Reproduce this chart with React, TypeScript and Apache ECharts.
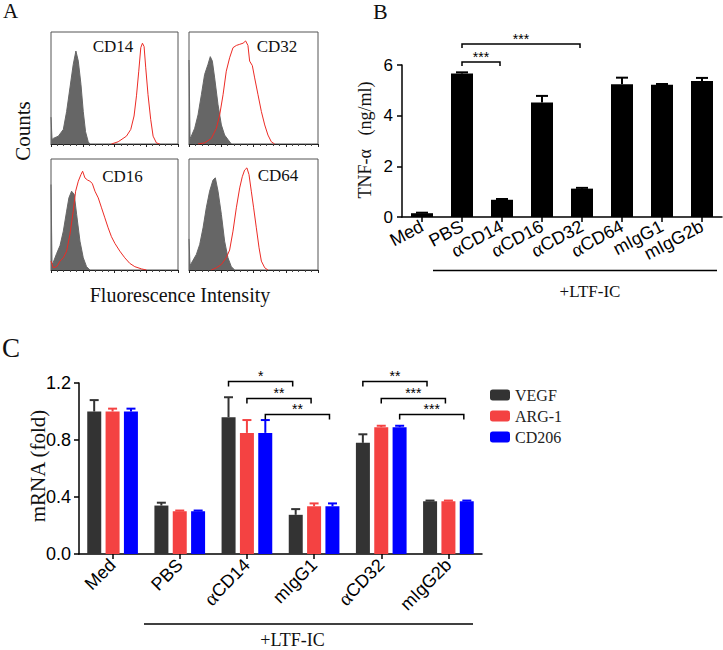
import React, { useEffect, useRef } from 'react';
import * as echarts from 'echarts';

const SANS = '"Liberation Sans", Arial, sans-serif';
const SERIF = '"Liberation Serif", "Times New Roman", serif';

// ---------- Panel A: flow histograms, [fluorescence position (% of axis), counts (% of max)] ----------
const histLabels = ['CD14', 'CD32', 'CD16', 'CD64'];
const isoCD14 = [[0, 24], [0.8, 4], [1.8, 5], [5.8, 7], [9.7, 13], [12.3, 29], [14.9, 50], [17.5, 71], [19.6, 83], [21.5, 74], [23.6, 53], [25.4, 29], [27.2, 11], [29.3, 2], [30.6, 0]];
const posCD14 = [[47.6, 0], [52.9, 2], [59.4, 7], [62.8, 13], [65.4, 25], [67.3, 43], [69.1, 65], [70.7, 86], [72.0, 90], [73.3, 87], [74.6, 68], [76.4, 44], [78.5, 22], [80.4, 7], [83.0, 1], [85.6, 0]];
const isoCD32 = [[0, 75], [0.8, 5], [1.8, 7], [4.4, 14], [7.0, 26], [9.6, 44], [12.1, 62], [14.7, 71], [16.5, 78], [18.1, 74], [19.9, 59], [22.5, 35], [25.1, 17], [27.6, 8], [30.2, 4], [32.8, 0]];
const posCD32 = [[7.0, 0], [12.1, 1], [17.3, 5], [21.2, 14], [23.8, 26], [26.4, 44], [28.9, 65], [31.5, 77], [34.1, 86], [36.7, 88], [39.3, 89], [41.9, 90], [43.9, 92], [45.7, 88], [47.0, 74], [49.1, 70], [50.9, 59], [53.5, 44], [56.1, 29], [58.7, 17], [61.2, 8], [63.8, 2], [66.4, 0]];
const isoCD16 = [[0, 77], [0.8, 5], [1.8, 7], [4.5, 15], [7.1, 22], [9.7, 35], [12.3, 53], [14.1, 65], [16.2, 71], [18.3, 68], [20.2, 50], [22.8, 26], [25.4, 11], [28.0, 3], [30.6, 0]];
const posCD16 = [[0, 8], [1.8, 2], [4.5, 3], [7.1, 8], [9.7, 11], [12.3, 17], [14.9, 32], [17.5, 53], [19.4, 71], [21.5, 80], [23.6, 86], [24.9, 89], [26.7, 83], [28.8, 81], [30.6, 80], [32.5, 78], [34.6, 71], [37.2, 65], [39.8, 56], [42.4, 47], [45.0, 38], [47.6, 30], [50.3, 24], [54.2, 17], [58.1, 11], [62.0, 6], [66.0, 3], [71.2, 1], [75.1, 0]];
const isoCD64 = [[0, 28], [0.8, 4], [1.8, 6], [5.7, 14], [8.3, 23], [10.9, 38], [13.4, 56], [16.0, 71], [18.6, 81], [20.4, 83], [22.5, 71], [25.1, 50], [27.6, 26], [30.2, 11], [32.8, 3], [35.4, 0]];
const posCD64 = [[17.3, 0], [21.2, 2], [25.1, 5], [28.9, 11], [31.5, 18], [34.1, 35], [36.7, 56], [39.3, 74], [41.3, 84], [43.1, 90], [44.9, 92], [46.5, 86], [48.3, 71], [50.1, 56], [52.2, 38], [54.3, 20], [56.1, 8], [58.7, 2], [61.2, 0]];
const isoCurves = [isoCD14, isoCD32, isoCD16, isoCD64];
const posCurves = [posCD14, posCD32, posCD16, posCD64];

// ---------- Panel B: TNF-α ----------
const bCategories = ['Med', 'PBS', 'αCD14', 'αCD16', 'αCD32', 'αCD64', 'mIgG1', 'mIgG2b'];
const bValues = [0.15, 5.66, 0.68, 4.52, 1.12, 5.24, 5.22, 5.37];
const bErrors = [0.02, 0.05, 0.03, 0.26, 0.03, 0.26, 0.03, 0.12];
const bSig = [['PBS', 'αCD14', '***'], ['PBS', 'αCD32', '***']];

// ---------- Panel C: mRNA ----------
const cCategories = ['Med', 'PBS', 'αCD14', 'mIgG1', 'αCD32', 'mIgG2b'];
const cSeriesNames = ['VEGF', 'ARG-1', 'CD206'];
const vegf = [1.0, 0.34, 0.96, 0.275, 0.78, 0.37];
const vegfErr = [0.08, 0.02, 0.14, 0.04, 0.06, 0.005];
const arg1 = [1.0, 0.30, 0.85, 0.335, 0.89, 0.37];
const arg1Err = [0.02, 0.005, 0.09, 0.02, 0.01, 0.005];
const cd206 = [1.0, 0.30, 0.85, 0.335, 0.89, 0.37];
const cd206Err = [0.02, 0.005, 0.09, 0.02, 0.01, 0.005];
const cSig = [
  ['αCD14', 'mIgG1', 'VEGF', '*'],
  ['αCD14', 'mIgG1', 'ARG-1', '**'],
  ['αCD14', 'mIgG1', 'CD206', '**'],
  ['αCD32', 'mIgG2b', 'VEGF', '**'],
  ['αCD32', 'mIgG2b', 'ARG-1', '***'],
  ['αCD32', 'mIgG2b', 'CD206', '***'],
];

// ---------- styles / layout ----------
const C_COLORS = ['#333333', '#f44242', '#0000ff'];
const C_BAR_W = 14;
const C_BAR_STEP = 18.4;
const B_LEVELS = [-3, -21];
const C_LEVELS = [-1.5, 15.5, 31.5];

const catFmt = (v: string) => (v.startsWith('α') ? '{g|α}' + v.slice(1) : v);

export default function App() {
  const ref = useRef<HTMLDivElement>(null);
  useEffect(() => {
    document.body.style.margin = '0';
    const chart = echarts.init(ref.current!, undefined, { renderer: 'svg' });

    const histGrids = [
      { left: 51, top: 32, width: 127, height: 112 },
      { left: 189, top: 32, width: 129, height: 112 },
      { left: 51, top: 159, width: 127, height: 111 },
      { left: 189, top: 159, width: 129, height: 111 },
    ];
    const grids: any[] = histGrids.map((g) => ({ ...g, show: true, borderColor: '#555', borderWidth: 1, backgroundColor: 'transparent' }));
    grids.push({ left: 402, top: 65, width: 320, height: 152 });
    grids.push({ left: 79, top: 383, width: 403, height: 171 });

    const xAxes: any[] = histGrids.map((_, i) => ({
      gridIndex: i, type: 'value', min: 0, max: 100, interval: 25,
      axisLabel: { show: false }, splitLine: { show: false },
      axisLine: { show: true, lineStyle: { color: '#222', width: 1 } },
      axisTick: { show: true, length: 3, lineStyle: { color: '#222' } },
      minorTick: { show: true, splitNumber: 5, length: 2, lineStyle: { color: '#444' } },
    }));
    const yAxes: any[] = histGrids.map((_, i) => ({ gridIndex: i, type: 'value', min: 0, max: 100, show: false }));

    xAxes.push({
      gridIndex: 4, type: 'category', data: bCategories,
      axisLine: { show: true, lineStyle: { color: '#000', width: 1.5 } },
      axisTick: { show: true, alignWithLabel: true, length: 5, lineStyle: { color: '#000', width: 1.5 } },
      axisLabel: {
        rotate: 28, fontSize: 18, fontFamily: SANS, color: '#000', margin: 8, interval: 0,
        formatter: catFmt, rich: { g: { fontFamily: SERIF, fontSize: 20, color: '#000' } },
      },
    });
    yAxes.push({
      gridIndex: 4, type: 'value', min: 0, max: 6, interval: 2,
      splitLine: { show: false },
      axisLine: { show: true, lineStyle: { color: '#000', width: 1.5 } },
      axisTick: { show: true, length: 5, lineStyle: { color: '#000', width: 1.5 } },
      axisLabel: { fontSize: 17, fontFamily: SANS, color: '#000', margin: 9 },
    });
    xAxes.push({
      gridIndex: 5, type: 'category', data: cCategories,
      axisLine: { show: true, lineStyle: { color: '#000', width: 1.5 } },
      axisTick: { show: true, alignWithLabel: true, length: 5, lineStyle: { color: '#000', width: 1.5 } },
      axisLabel: {
        rotate: 45, fontSize: 18, fontFamily: SANS, color: '#000', margin: 8, interval: 0,
        formatter: catFmt, rich: { g: { fontFamily: SERIF, fontSize: 20, color: '#000' } },
      },
    });
    yAxes.push({
      gridIndex: 5, type: 'value', min: 0, max: 1.2, interval: 0.4,
      splitLine: { show: false },
      axisLine: { show: true, lineStyle: { color: '#000', width: 1.5 } },
      axisTick: { show: true, length: 5, lineStyle: { color: '#000', width: 1.5 } },
      axisLabel: { fontSize: 18, fontFamily: SANS, color: '#000', margin: 8, formatter: (v: number) => v.toFixed(1) },
    });

    const series: any[] = [];
    histGrids.forEach((_, i) => {
      series.push({
        type: 'line', xAxisIndex: i, yAxisIndex: i, data: isoCurves[i], symbol: 'none', silent: true,
        lineStyle: { color: '#666666', width: 1 }, areaStyle: { color: '#666666', opacity: 1 },
      });
      series.push({
        type: 'line', xAxisIndex: i, yAxisIndex: i, data: posCurves[i], symbol: 'none', silent: true,
        lineStyle: { color: '#ec2b25', width: 1 },
      });
    });

    // Panel B
    series.push({
      type: 'bar', xAxisIndex: 4, yAxisIndex: 4, data: bValues, barWidth: 22, itemStyle: { color: '#000' },
    });
    series.push({
      type: 'custom', xAxisIndex: 4, yAxisIndex: 4, z: 5,
      data: bValues.map((v, i) => [i, v, bErrors[i]]),
      encode: { x: 0, y: 1 },
      renderItem: (_p: any, api: any) => {
        const i = api.value(0), v = api.value(1), e = api.value(2);
        const base = api.coord([i, v]);
        const top = api.coord([i, v + e]);
        const st = { stroke: '#000', lineWidth: 2 };
        return {
          type: 'group', children: [
            { type: 'line', shape: { x1: base[0], y1: base[1], x2: base[0], y2: top[1] }, style: st },
            { type: 'line', shape: { x1: base[0] - 6, y1: top[1], x2: base[0] + 6, y2: top[1] }, style: st },
          ],
        };
      },
    });
    series.push({
      type: 'custom', xAxisIndex: 4, yAxisIndex: 4, z: 5,
      data: bSig.map((s, k) => [bCategories.indexOf(s[0]), 0, bCategories.indexOf(s[1]), k]),
      encode: { x: 0, y: 1 },
      renderItem: (p: any, api: any) => {
        const i1 = api.value(0), i2 = api.value(2), k = api.value(3);
        const x1 = api.coord([i1, 0])[0];
        const x2 = api.coord([i2, 0])[0] - 2;
        const y = api.coord([0, 6])[1] + B_LEVELS[k];
        return {
          type: 'group', children: [
            { type: 'polyline', shape: { points: [[x1, y + 4], [x1, y], [x2, y], [x2, y + 4]] }, style: { stroke: '#000', lineWidth: 1.5, fill: null } },
            { type: 'text', x: (x1 + x2) / 2, y: y - 5.5, style: { text: bSig[p.dataIndex][2], fill: '#000', font: `14px ${SANS}`, align: 'center', verticalAlign: 'middle' } },
          ],
        };
      },
    });

    // Panel C
    const cVals = [vegf, arg1, cd206];
    const cErrs = [vegfErr, arg1Err, cd206Err];
    cSeriesNames.forEach((name, s) => {
      series.push({
        type: 'bar', name, xAxisIndex: 5, yAxisIndex: 5, data: cVals[s], barWidth: C_BAR_W, barGap: '31%',
        itemStyle: { color: C_COLORS[s] },
      });
    });
    const cErrData: number[][] = [];
    cVals.forEach((arr, s) => arr.forEach((v, i) => cErrData.push([i, v, cErrs[s][i], s])));
    series.push({
      type: 'custom', xAxisIndex: 5, yAxisIndex: 5, z: 5, data: cErrData, encode: { x: 0, y: 1 },
      renderItem: (_p: any, api: any) => {
        const i = api.value(0), v = api.value(1), e = api.value(2), s = api.value(3);
        const off = (s - 1) * C_BAR_STEP;
        const base = api.coord([i, v]);
        const top = api.coord([i, v + e]);
        const x = base[0] + off;
        const st = { stroke: C_COLORS[s], lineWidth: 2 };
        return {
          type: 'group', children: [
            { type: 'line', shape: { x1: x, y1: base[1], x2: x, y2: top[1] }, style: st },
            { type: 'line', shape: { x1: x - 4.5, y1: top[1], x2: x + 4.5, y2: top[1] }, style: st },
          ],
        };
      },
    });
    series.push({
      type: 'custom', xAxisIndex: 5, yAxisIndex: 5, z: 5,
      data: cSig.map((s) => [cCategories.indexOf(s[0]), 0, cCategories.indexOf(s[1]), cSeriesNames.indexOf(s[2])]),
      encode: { x: 0, y: 1 },
      renderItem: (p: any, api: any) => {
        const i1 = api.value(0), i2 = api.value(2), s = api.value(3);
        const off = (s - 1) * C_BAR_STEP;
        const x1 = api.coord([i1, 0])[0] + off;
        const x2 = api.coord([i2, 0])[0] + off - 3;
        const y = api.coord([0, 1.2])[1] + C_LEVELS[s];
        return {
          type: 'group', children: [
            { type: 'polyline', shape: { points: [[x1, y + 5], [x1, y], [x2, y], [x2, y + 5]] }, style: { stroke: '#000', lineWidth: 1.5, fill: null } },
            { type: 'text', x: (x1 + x2) / 2, y: y - 5.5, style: { text: cSig[p.dataIndex][3], fill: '#000', font: `14px ${SANS}`, align: 'center', verticalAlign: 'middle' } },
          ],
        };
      },
    });

    const txt = (text: string, x: number, y: number, size: number, extra: any = {}) => ({
      type: 'text', x, y, ...extra,
      style: { text, fill: '#111', font: `${size}px ${SERIF}`, align: extra.align || 'center', verticalAlign: 'middle' },
    });

    const cdPos = [[113, 46.5], [277, 46.5], [122.5, 176], [278, 175]];
    const graphic: any[] = [
      txt('A', 3, 11, 21, { align: 'left' }),
      txt('B', 373, 11, 22, { align: 'left' }),
      txt('C', 2, 348, 27, { align: 'left' }),
      txt('Counts', 22.5, 131, 21, { rotation: Math.PI / 2 }),
      txt('Fluorescence Intensity', 180, 295, 20),
      ...histLabels.map((l, i) => txt(l, cdPos[i][0], cdPos[i][1], 17)),
      txt('TNF-α   (ng/ml)', 364.5, 140, 18, { rotation: Math.PI / 2 }),
      txt('mRNA (fold)', 37.5, 466, 21, { rotation: Math.PI / 2 }),
      { type: 'line', shape: { x1: 433, y1: 270.5, x2: 717, y2: 270.5 }, style: { stroke: '#000', lineWidth: 1.5 } },
      txt('+LTF-IC', 590, 291, 17),
      { type: 'line', shape: { x1: 144, y1: 624, x2: 473, y2: 624 }, style: { stroke: '#000', lineWidth: 1.5 } },
      txt('+LTF-IC', 292.5, 640, 18),
    ];

    chart.setOption({
      animation: false,
      backgroundColor: '#fff',
      grid: grids,
      xAxis: xAxes,
      yAxis: yAxes,
      legend: {
        data: cSeriesNames, orient: 'vertical', left: 485, top: 382, itemWidth: 20, itemHeight: 11, itemGap: 5,
        selectedMode: false, textStyle: { fontFamily: SERIF, fontSize: 16, color: '#222' },
      },
      series,
      graphic,
    });
    return () => chart.dispose();
  }, []);
  return <div ref={ref} style={{ position: 'absolute', left: 0, top: 0, width: 723, height: 650 }} />;
}
